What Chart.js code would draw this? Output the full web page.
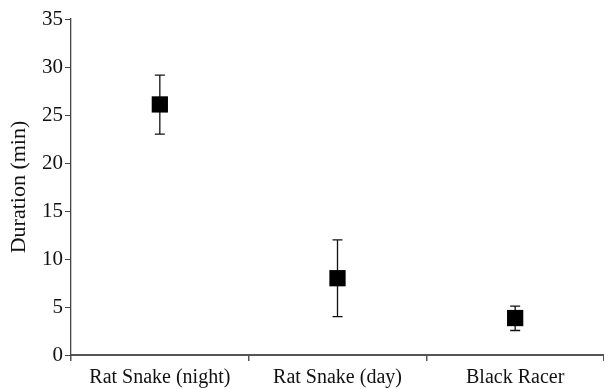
<!DOCTYPE html>
<html>
<head>
<meta charset="utf-8">
<script src="https://cdn.jsdelivr.net/npm/chart.js@4"></script>
<style>
  html, body { margin: 0; padding: 0; background: #fff; }
  #wrap { width: 604px; height: 389px; }
</style>
</head>
<body>
<div id="wrap"><canvas id="durationChart"></canvas></div>
<script>
const categories = ['Rat Snake (night)', 'Rat Snake (day)', 'Black Racer'];
const durations = [26.1, 8.0, 3.85];
const errLow = [23.0, 4.0, 2.55];
const errHigh = [29.15, 12.0, 5.1];
const yTicks = [0, 5, 10, 15, 20, 25, 30, 35];

const serif = "'Liberation Serif', 'Times New Roman', serif";

// draws the whiskers + caps behind the squares
const errorBars = {
    id: 'errorBars',
    beforeDatasetsDraw(chart) {
        const c = chart.ctx;
        const xs = chart.scales.x, ys = chart.scales.y;
        c.save();
        c.strokeStyle = '#111';
        c.lineWidth = 1.3;
        categories.forEach((cat, i) => {
            const x = xs.getPixelForValue(i);
            const top = ys.getPixelForValue(errHigh[i]);
            const bot = ys.getPixelForValue(errLow[i]);
            c.beginPath();
            c.moveTo(x, top); c.lineTo(x, bot);
            c.moveTo(x - 5, top); c.lineTo(x + 5, top);
            c.moveTo(x - 5, bot); c.lineTo(x + 5, bot);
            c.stroke();
        });
        c.restore();
    }
};

const ctx = document.getElementById('durationChart').getContext('2d');
new Chart(ctx, {
    type: 'line',
    data: {
        labels: categories,
        datasets: [{
            data: durations,
            showLine: false,
            pointStyle: 'rect',
            pointRadius: 11.5,
            pointHoverRadius: 11.5,
            backgroundColor: '#000',
            borderColor: '#000',
            borderWidth: 0,
            clip: false
        }]
    },
    options: {
        responsive: true,
        maintainAspectRatio: false,
        animation: false,
        layout: { autoPadding: false, padding: { top: 19, right: 0, bottom: 0, left: 0 } },
        plugins: { legend: { display: false }, tooltip: { enabled: false } },
        scales: {
            x: {
                type: 'category',
                offset: true,
                grid: { offset: true, drawOnChartArea: false, drawTicks: true, tickLength: 6, color: '#555', lineWidth: 1.5 },
                border: { color: '#555', width: 2 },
                ticks: { color: '#111', font: { family: serif, size: 20 }, padding: 5, maxRotation: 0, autoSkip: false },
                afterFit(scale) {
                    scale.height = 34;
                    scale.paddingLeft = 0;
                    scale.paddingRight = 0;
                }
            },
            y: {
                min: 0,
                max: 35,
                afterBuildTicks(scale) { scale.ticks = yTicks.map(v => ({ value: v })); },
                grid: { drawOnChartArea: false, drawTicks: true, tickLength: 6, color: '#444' },
                border: { color: '#444', width: 1.3 },
                ticks: { color: '#111', font: { family: serif, size: 21 }, padding: 2 },
                title: { display: true, text: 'Duration (min)', color: '#111', font: { family: serif, size: 22 }, padding: { top: 6, bottom: 4 } },
                afterFit(scale) { scale.width = 71; }
            }
        }
    },
    plugins: [errorBars]
});
</script>
</body>
</html>
